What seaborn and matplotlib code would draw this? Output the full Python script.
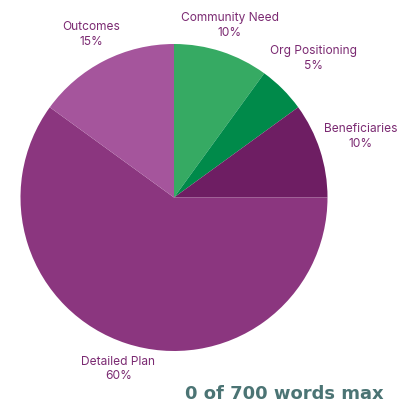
import numpy as np
import matplotlib
matplotlib.use("Agg")
import matplotlib.pyplot as plt
import seaborn as sns

categories = ["Community Need", "Org Positioning", "Beneficiaries", "Detailed Plan", "Outcomes"]
values = [10, 5, 10, 60, 15]
colors = ["#36aa63", "#008a4a", "#6e1e63", "#8b367f", "#a5559c"]
footer_text = "0 of 700 words max"

sns.set_theme(style="white")
plt.rcParams["font.family"] = ["Inter", "DejaVu Sans"]

W, H = 406, 404
fig = plt.figure(figsize=(W / 100, H / 100), dpi=100)
ax = fig.add_axes([0, 0, 1, 1])

cx, cy, R = 174, 197.5, 153.5
wedges, _ = ax.pie(values, colors=colors, startangle=90, counterclock=False,
                   radius=1.0, wedgeprops=dict(linewidth=0))

label_dist = [1.18, 1.283, 1.28, 1.175, 1.19]
total = sum(values)
for w, name, v, d in zip(wedges, categories, values, label_dist):
    mid = np.deg2rad((w.theta1 + w.theta2) / 2)
    x, y = d * np.cos(mid), d * np.sin(mid)
    ax.text(x, y, f"{name}\n{v / total * 100:.0f}%", ha="center", va="center",
            fontsize=8.6, color="#7b2a72", linespacing=1.3)

ax.set_aspect("auto")
ax.set_xlim(-cx / R, (W - cx) / R)
ax.set_ylim(-(H - cy) / R, cy / R)
ax.axis("off")

fig.text(284 / W, 1 - 394 / H, footer_text, ha="center", va="center",
         fontsize=13, fontweight="bold", color="#4b7474",
         family=["DejaVu Sans"])

fig.savefig("out.png", dpi=100)
